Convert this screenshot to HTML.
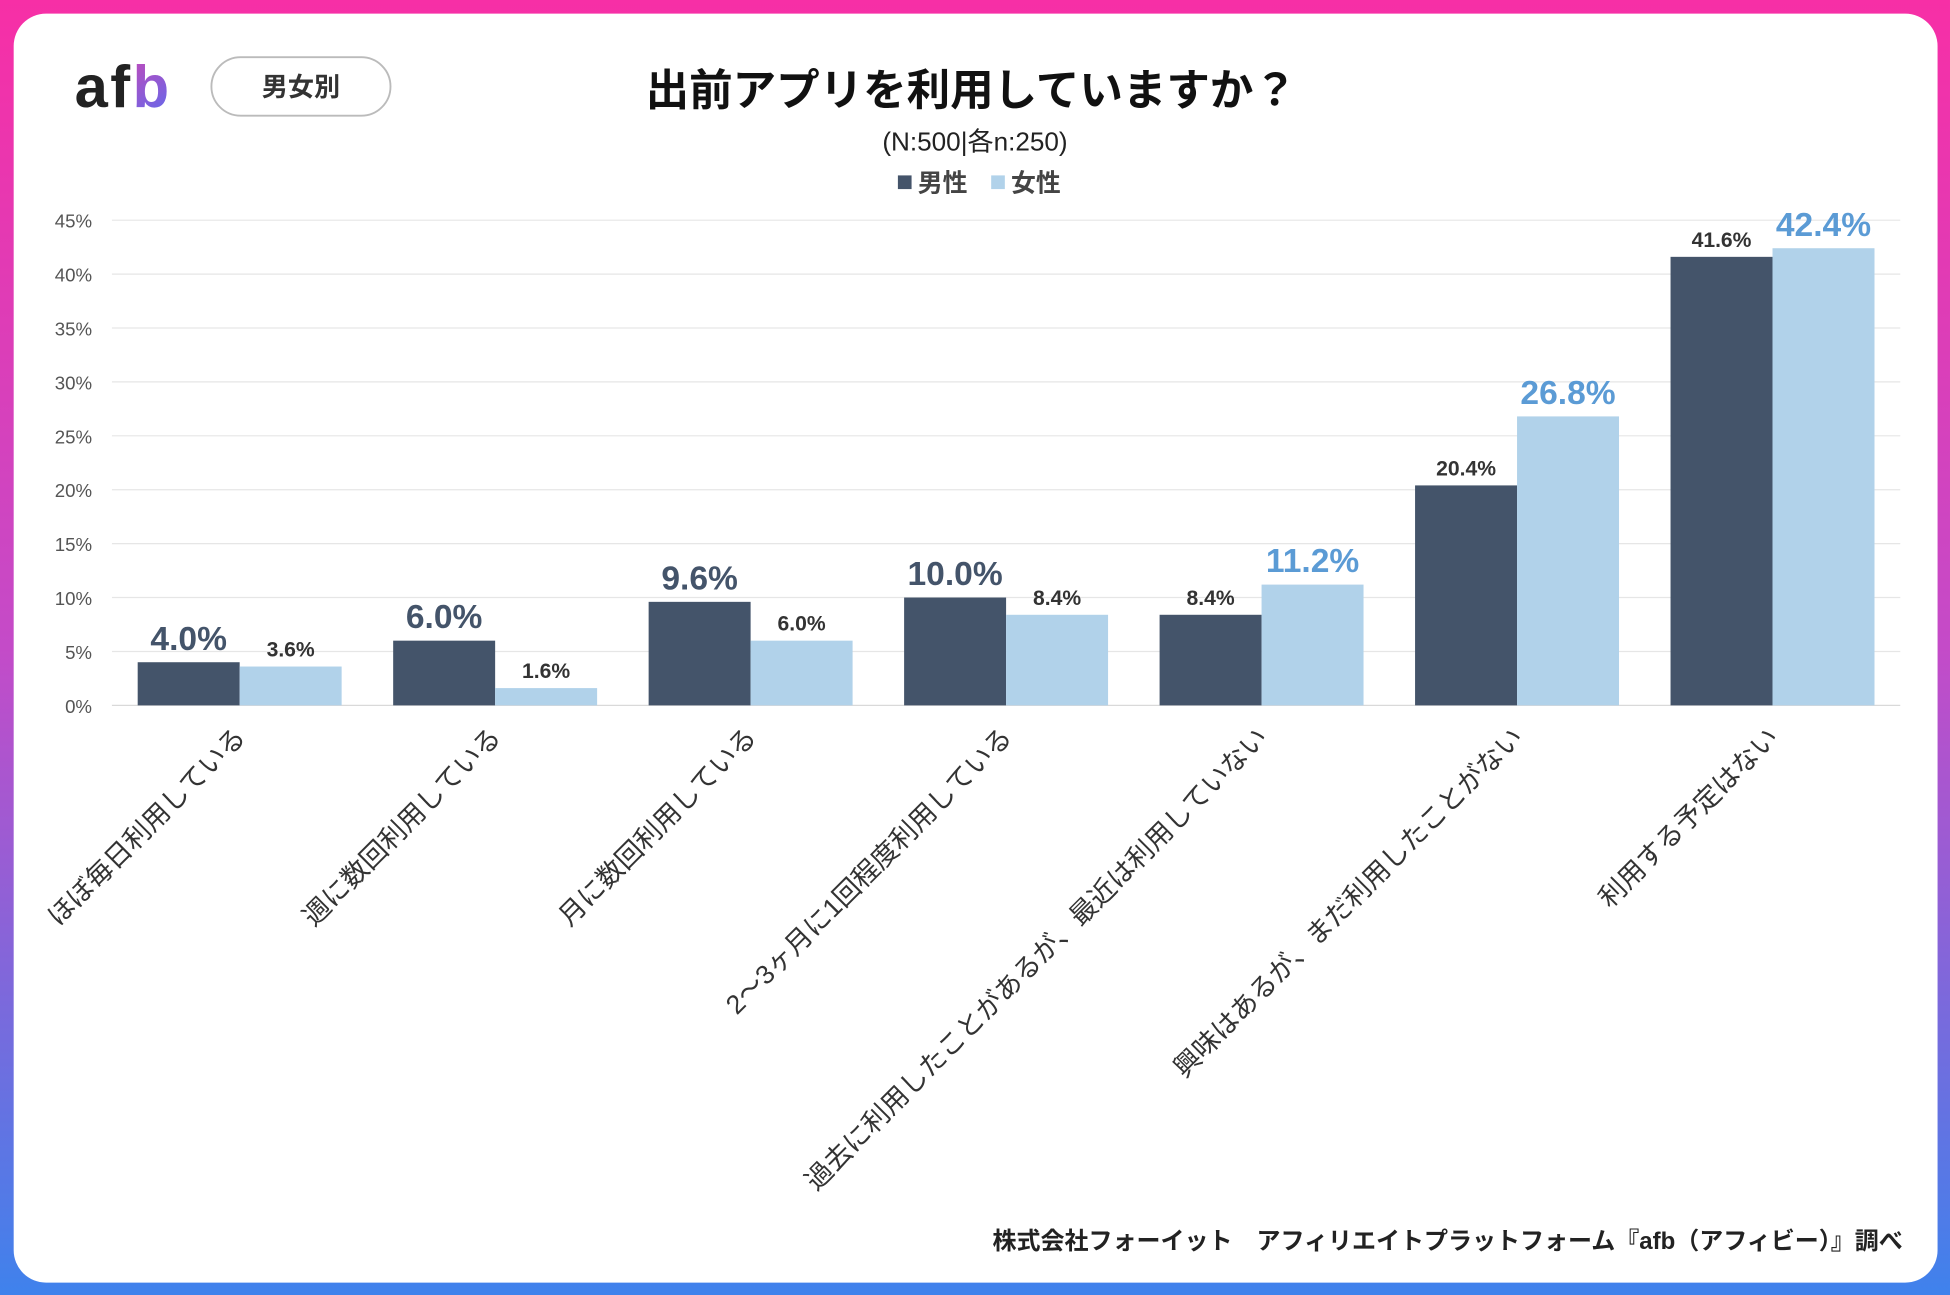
<!DOCTYPE html>
<html><head><meta charset="utf-8"><style>
html,body{margin:0;padding:0;width:1950px;height:1295px;overflow:hidden;background:#fff}
#wrap{width:1568px;height:1041px;transform:scale(1.24362,1.24400);transform-origin:0 0;position:relative;
background:linear-gradient(180deg,#f72fa6 0%,#c44bc8 50%,#3f82ec 100%);font-family:"Liberation Sans","Noto Sans CJK JP",sans-serif}
#card{position:absolute;left:11px;top:11px;width:1547px;height:1020px;background:#fff;border-radius:26px}
svg text{font-family:"Liberation Sans","Noto Sans CJK JP",sans-serif}
</style></head><body>
<div id="wrap">
<div id="card"></div>
<svg id="chart" width="1568" height="1041" style="position:absolute;left:0;top:0">
<defs><linearGradient id="lg" x1="0" y1="0" x2="1" y2="1"><stop offset="0" stop-color="#f03aa0"/><stop offset="1" stop-color="#5b6cf0"/></linearGradient></defs>
<text x="60" y="86" font-size="48" font-weight="bold" fill="#222" letter-spacing="2">af<tspan fill="url(#lg)">b</tspan></text>
<rect x="170" y="46" width="144" height="47" rx="23.5" fill="#fff" stroke="#bbb" stroke-width="1.5"/>
<text x="242" y="77" font-size="21" font-weight="bold" fill="#333" text-anchor="middle">男女別</text>
<text x="781" y="85" font-size="35" font-weight="bold" fill="#111" text-anchor="middle">出前アプリを利用していますか？</text>
<text x="784" y="121" font-size="21" fill="#222" text-anchor="middle">(N:500|各n:250)</text>
<g>
<rect x="722" y="141" width="11" height="11" fill="#44546a"/>
<text x="738" y="154" font-size="20" font-weight="bold" fill="#444">男性</text>
<rect x="797" y="141" width="11" height="11" fill="#b1d2ea"/>
<text x="813" y="154" font-size="20" font-weight="bold" fill="#444">女性</text>
</g>
<g id="grid"></g><g id="bars"></g><g id="labels"></g>
<text x="1530" y="1004" font-size="19.3" font-weight="bold" fill="#222" text-anchor="end">株式会社フォーイット　アフィリエイトプラットフォーム『afb（アフィビー）』調べ</text>
</svg>
</div>
<script>
const categories=["ほぼ毎日利用している","週に数回利用している","月に数回利用している","2～3ヶ月に1回程度利用している","過去に利用したことがあるが、最近は利用していない","興味はあるが、まだ利用したことがない","利用する予定はない"];
const maleValues=[4.0,6.0,9.6,10.0,8.4,20.4,41.6];
const femaleValues=[3.6,1.6,6.0,8.4,11.2,26.8,42.4];
const yTicks=[0,5,10,15,20,25,30,35,40,45];
const NS="http://www.w3.org/2000/svg";
const x0=90,x1=1528,y0=567,yTop=177,maxV=45;
const band=(x1-x0)/categories.length,barW=82;
function yS(v){return y0-(v/maxV)*(y0-yTop);}
function xC(i){return x0+band*(i+0.5);}
function mk(t,a,p){const e=document.createElementNS(NS,t);for(const k in a)e.setAttribute(k,a[k]);p.appendChild(e);return e;}
const grid=document.getElementById('grid'),bars=document.getElementById('bars'),labels=document.getElementById('labels');
yTicks.forEach(t=>{
 const l=mk('line',{x1:x0,x2:x1,y1:yS(t),y2:yS(t),stroke:t===0?'#d9d9d9':'#e6e6e6','stroke-width':1},grid);
 
 
 const tx=mk('text',{x:74,y:yS(t)+6,'font-size':15,fill:'#555','text-anchor':'end'},grid);
 tx.textContent=t+'%';
 
 
});
function label(v,x,big,color,name){
 const t=mk('text',{x:x,y:yS(v)-(big?10:8),'font-size':big?27:17,'font-weight':'bold',fill:color,'text-anchor':'middle'},labels);
 t.textContent=v.toFixed(1)+'%';
 
 
}
categories.forEach((c,i)=>{
 const cx=xC(i);
 const m=mk('rect',{x:cx-barW,y:yS(maleValues[i]),width:barW,height:y0-yS(maleValues[i]),fill:'#44546a'},bars);
 
 
 const f=mk('rect',{x:cx,y:yS(femaleValues[i]),width:barW,height:y0-yS(femaleValues[i]),fill:'#b1d2ea'},bars);
 
 
 const fBig=femaleValues[i]>maleValues[i]&&i>=4;
 label(maleValues[i],cx-barW/2,i<4,i<4?'#44546a':'#333','value-male-'+i);
 label(femaleValues[i],cx+barW/2,fBig,fBig?'#5b9bd5':'#333','value-female-'+i);
 const lx=cx+6,ly=594;
 const t=mk('text',{x:lx,y:ly,'font-size':21.5,fill:'#333','text-anchor':'end',transform:'rotate(-45 '+lx+' '+ly+')'},labels);
 t.textContent=c;
 
 
});
</script>
</body></html>
